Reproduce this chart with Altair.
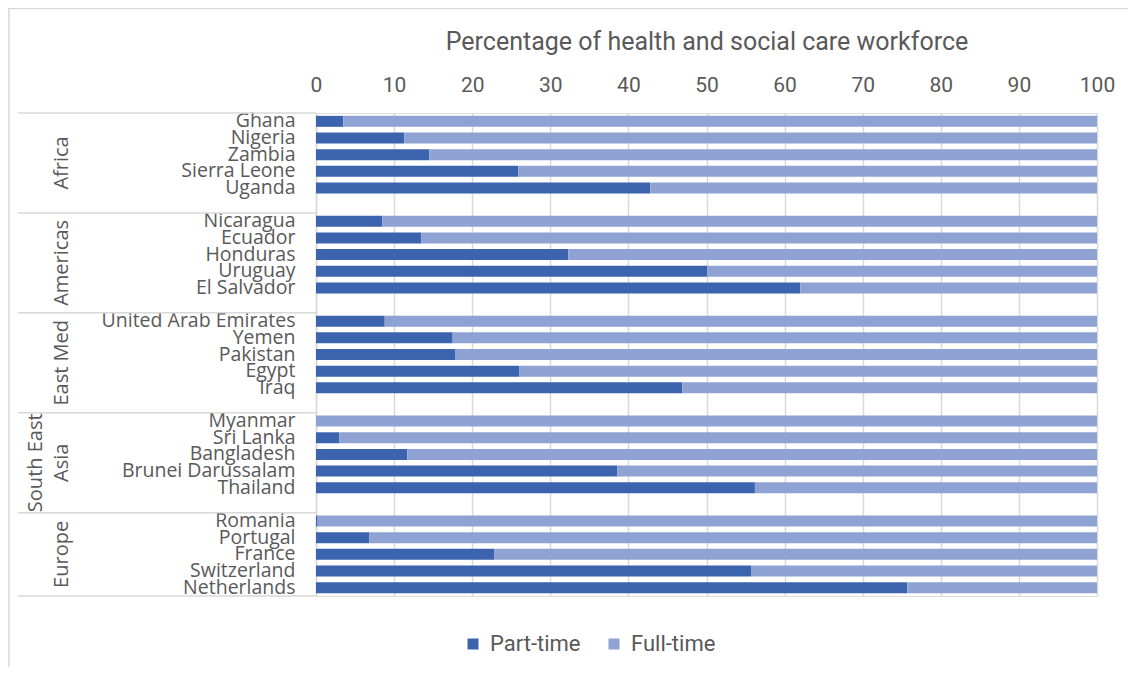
import altair as alt
import pandas as pd

# ---- data ----
regions = ["Africa", "Americas", "East Med", "South East\nAsia", "Europe"]
africa = ["Ghana", "Nigeria", "Zambia", "Sierra Leone", "Uganda"]
africa_pt = [3.5, 11.3, 14.5, 25.9, 42.8]
americas = ["Nicaragua", "Ecuador", "Honduras", "Uruguay", "El Salvador"]
americas_pt = [8.5, 13.5, 32.3, 50.1, 62.0]
east_med = ["United Arab Emirates", "Yemen", "Pakistan", "Egypt", "Iraq"]
east_med_pt = [8.8, 17.5, 17.8, 26.0, 46.9]
sea = ["Myanmar", "Sri Lanka", "Bangladesh", "Brunei Darussalam", "Thailand"]
sea_pt = [0.0, 3.0, 11.7, 38.6, 56.2]
europe = ["Romania", "Portugal", "France", "Switzerland", "Netherlands"]
europe_pt = [0.2, 6.8, 22.8, 55.7, 75.7]
types = ["Part-time", "Full-time"]
ticks = [0, 10, 20, 30, 40, 50, 60, 70, 80, 90, 100]

groups = [africa, americas, east_med, sea, europe]
group_pt = [africa_pt, americas_pt, east_med_pt, sea_pt, europe_pt]

# slot order: 5 countries per group, one blank slot between groups
slots = []
for i, g in enumerate(groups):
    slots += g
    if i < len(groups) - 1:
        slots.append(" " * (i + 1))

rows = []
for g, pts in zip(groups, group_pt):
    for c, p in zip(g, pts):
        rows.append({"Country": c, "Type": types[0], "Value": p, "ord": 0})
        rows.append({"Country": c, "Type": types[1], "Value": round(100 - p, 1), "ord": 1})
df = pd.DataFrame(rows)

GRAY = "#595959"
LINE = "#D9D9D9"
DARK = "#3C64AE"
LIGHT = "#8FA2D4"

yscale = alt.Scale(domain=slots, paddingInner=0, paddingOuter=0)

bars = alt.Chart(df).mark_bar(height={"band": 0.66}).encode(
    x=alt.X("Value:Q", stack="zero",
            scale=alt.Scale(domain=[0, 100], nice=False),
            axis=alt.Axis(orient="top", values=ticks, grid=True, gridColor=LINE,
                          gridWidth=1.5, domain=False, ticks=False, labelFlush=False,
                          labelFont="Roboto", labelFontSize=21, labelColor=GRAY,
                          labelPadding=18,
                          title="Percentage of health and social care workforce",
                          titleFont="Roboto", titleFontSize=25, titleFontWeight="normal",
                          titleColor=GRAY, titlePadding=20)),
    y=alt.Y("Country:N", scale=yscale,
            axis=alt.Axis(title=None, domain=True, domainColor=LINE, domainWidth=1.5,
                          ticks=False, labelFont="Open Sans", labelFontSize=19.5,
                          labelColor=GRAY, labelPadding=21, labelOverlap=False,
                          labelLimit=400)),
    color=alt.Color("Type:N", scale=alt.Scale(domain=types, range=[DARK, LIGHT]),
                    legend=alt.Legend(title=None, orient="none", legendX=146, legendY=520,
                                      direction="horizontal", symbolType="square",
                                      symbolSize=121, symbolStrokeWidth=0,
                                      labelFont="Roboto", labelFontSize=22,
                                      labelColor=GRAY, columnPadding=22, labelOffset=6)),
    order=alt.Order("ord:Q"),
)

# group separator lines in the category area
first_df = pd.DataFrame({"Country": [g[0] for g in groups]})
last_df = pd.DataFrame({"Country": [europe[-1]]})
sep_top = alt.Chart(first_df).mark_rule(color=LINE, strokeWidth=1.5).encode(
    y=alt.Y("Country:N", bandPosition=0),
    x=alt.value(-298), x2=alt.value(0))
sep_bottom = alt.Chart(last_df).mark_rule(color=LINE, strokeWidth=1.5).encode(
    y=alt.Y("Country:N", bandPosition=1),
    x=alt.value(-298), x2=alt.value(0))

# rotated group labels
lab_df = pd.DataFrame({"Region": [regions[0], regions[1], regions[2]],
                       "Country": [africa[3], americas[3], east_med[3]]})
lab_sea = pd.DataFrame({"Region": [regions[3]], "Country": [sea[3]]})
lab_eu = pd.DataFrame({"Region": [regions[4]], "Country": [europe[2]]})
lab_kw = dict(angle=270, align="center", baseline="bottom", font="Open Sans",
              fontSize=20, color=GRAY, lineBreak="\n", lineHeight=26)
labels = alt.Chart(lab_df).mark_text(**lab_kw).encode(
    y=alt.Y("Country:N", bandPosition=0), x=alt.value(-244), text="Region:N")
labels_sea = alt.Chart(lab_sea).mark_text(**lab_kw).encode(
    y=alt.Y("Country:N", bandPosition=0), x=alt.value(-270), text="Region:N")
labels_eu = alt.Chart(lab_eu).mark_text(**lab_kw).encode(
    y=alt.Y("Country:N", bandPosition=0.5), x=alt.value(-244), text="Region:N")

# outer frame (top and left edges)
frame_df = pd.DataFrame({"k": [0]})
frame_top = alt.Chart(frame_df).mark_rule(color=LINE, strokeWidth=1.5).encode(
    x=alt.value(-308), x2=alt.value(812), y=alt.value(-104.5))
frame_left = alt.Chart(frame_df).mark_rule(color=LINE, strokeWidth=1.5).encode(
    x=alt.value(-307), y=alt.value(-105), y2=alt.value(560))

chart = alt.layer(bars, sep_top, sep_bottom, labels, labels_sea, labels_eu,
                  frame_top, frame_left).properties(
    width=781, height=483,
    autosize=alt.AutoSizeParams(type="none"),
    padding={"left": 308, "top": 105, "right": 31, "bottom": 71},
).configure_view(stroke=None).configure(background="white")

chart.save("out.html", embed_options={"renderer": "svg", "actions": False})
